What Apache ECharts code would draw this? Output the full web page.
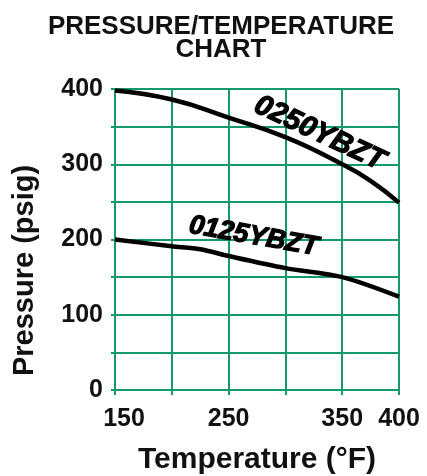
<!DOCTYPE html>
<html>
<head>
<meta charset="utf-8">
<script src="https://cdn.jsdelivr.net/npm/echarts@6/dist/echarts.min.js"></script>
<style>
html,body{margin:0;padding:0;background:#fff;}
#c{width:427px;height:476px;}
</style>
</head>
<body>
<div id="c"></div>
<script>
var titleText = 'PRESSURE/TEMPERATURE\nCHART';
var xName = 'Temperature (°F)';
var yName = 'Pressure (psig)';
var xTickLabels = [150, 250, 350, 400];
var yTickLabels = [0, 100, 200, 300, 400];
var seriesNames = ['0250YBZT', '0125YBZT'];
var tempA = [150, 200, 250, 300, 350, 375, 400];
var pressA = [398, 386, 362, 336, 300, 278, 249];
var tempB = [150, 200, 225, 250, 300, 350, 400];
var pressB = [200, 191, 187, 178, 162, 150, 124];
var labelPosA = [330, 341];
var labelPosB = [272, 204];

var GREEN = '#14996d';
var FONT = '"Liberation Sans", Arial, Helvetica, sans-serif';

function pairs(xs, ys) { return xs.map(function (x, i) { return [x, ys[i]]; }); }

var chart = echarts.init(document.getElementById('c'), null, { renderer: 'canvas' });
chart.setOption({
  backgroundColor: '#fff',
  animation: false,
  title: {
    text: titleText,
    left: 216,
    textAlign: 'center',
    top: 10,
    textStyle: { fontFamily: FONT, fontSize: 26, fontWeight: 'bold', color: '#111', lineHeight: 23 }
  },
  grid: { left: 115, right: 28, top: 89, bottom: 86, containLabel: false, outerBoundsMode: 'none' },
  xAxis: {
    type: 'value', min: 150, max: 400, interval: 50,
    name: xName, nameLocation: 'middle', nameGap: 55,
    nameTextStyle: { fontFamily: FONT, fontSize: 30, fontWeight: 'bold', color: '#111' },
    axisLine: { show: true, lineStyle: { color: GREEN, width: 2 } },
    axisTick: { show: true, length: 5, lineStyle: { color: GREEN, width: 2 } },
    splitLine: { show: true, lineStyle: { color: GREEN, width: 2 } },
    axisLabel: {
      margin: 17, fontFamily: FONT, fontSize: 25, fontWeight: 'bold', color: '#111',
      formatter: function (v) {
        if (xTickLabels.indexOf(v) < 0) return '';
        return v === xTickLabels[0] ? '{f|' + v + '}' : String(v);
      },
      rich: { f: { fontFamily: FONT, fontSize: 25, fontWeight: 'bold', color: '#111', padding: [0, 0, 0, 18] } }
    }
  },
  yAxis: {
    type: 'value', min: 0, max: 400, interval: 50,
    name: yName, nameLocation: 'middle', nameGap: 76,
    nameTextStyle: { fontFamily: FONT, fontSize: 29, fontWeight: 'bold', color: '#111', padding: [0, 62, 0, 0] },
    axisLine: { show: true, lineStyle: { color: GREEN, width: 2 } },
    axisTick: { show: true, length: 4, lineStyle: { color: GREEN, width: 2 } },
    splitLine: { show: true, lineStyle: { color: GREEN, width: 2 } },
    axisLabel: {
      margin: 12, fontFamily: FONT, fontSize: 25, fontWeight: 'bold', color: '#111',
      formatter: function (v) { return yTickLabels.indexOf(v) < 0 ? '' : String(v); }
    }
  },
  series: [
    {
      name: seriesNames[0], type: 'line', smooth: true, symbol: 'none',
      lineStyle: { color: '#000', width: 4.5 },
      data: pairs(tempA, pressA),
      markPoint: {
        symbol: 'circle', symbolSize: 1, itemStyle: { color: 'rgba(0,0,0,0)' },
        data: [{ coord: labelPosA, value: seriesNames[0] }],
        label: { show: true, position: 'inside', formatter: seriesNames[0], rotate: -25,
          fontFamily: FONT, fontSize: 29, fontWeight: 'bold', fontStyle: 'italic', color: '#000',
          textBorderColor: '#000', textBorderWidth: 1.2 }
      }
    },
    {
      name: seriesNames[1], type: 'line', smooth: 0.3, symbol: 'none',
      lineStyle: { color: '#000', width: 4.5 },
      data: pairs(tempB, pressB),
      markPoint: {
        symbol: 'circle', symbolSize: 1, itemStyle: { color: 'rgba(0,0,0,0)' },
        data: [{ coord: labelPosB, value: seriesNames[1] }],
        label: { show: true, position: 'inside', formatter: seriesNames[1], rotate: -10,
          fontFamily: FONT, fontSize: 27, fontWeight: 'bold', fontStyle: 'italic', color: '#000',
          textBorderColor: '#000', textBorderWidth: 1.2 }
      }
    }
  ]
});
</script>
</body>
</html>
